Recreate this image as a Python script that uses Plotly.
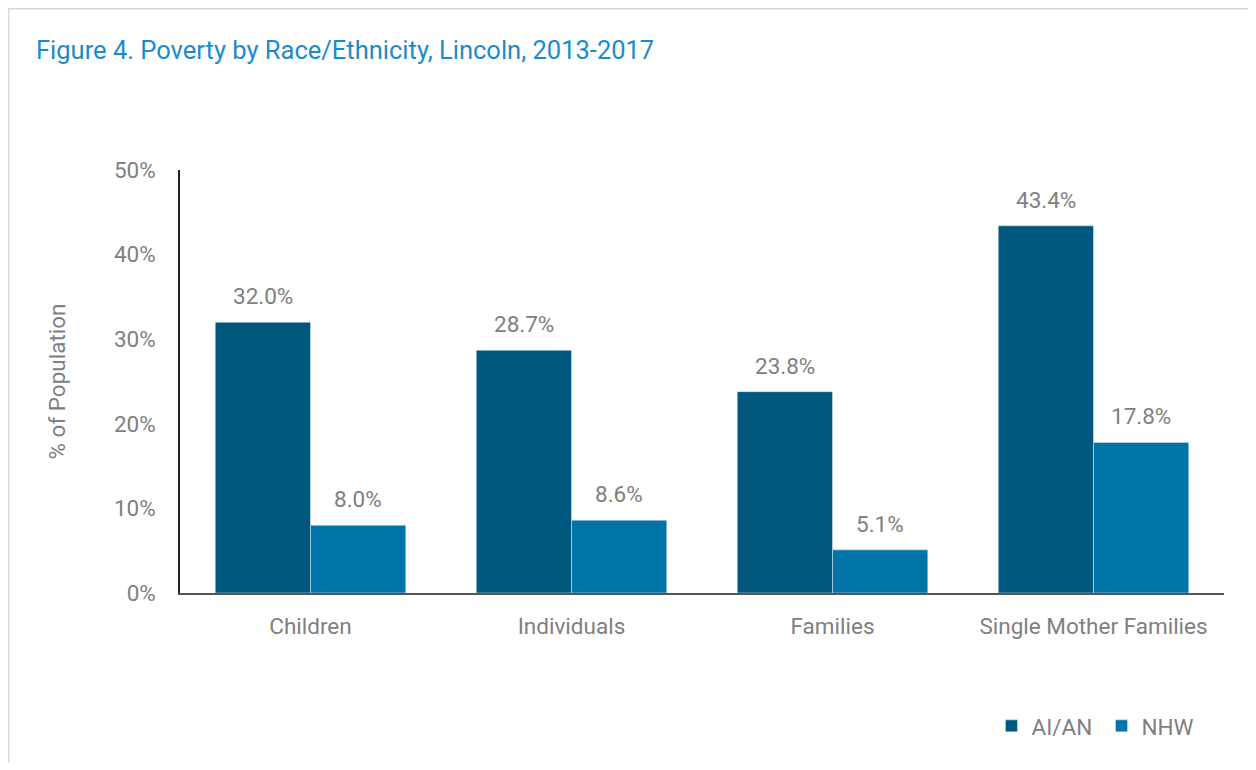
import plotly.graph_objects as go

categories = ["Children", "Individuals", "Families", "Single Mother Families"]
aian = [32.0, 28.7, 23.8, 43.4]
nhw = [8.0, 8.6, 5.1, 17.8]
y_ticks = [0, 10, 20, 30, 40, 50]
y_tick_labels = ["0%", "10%", "20%", "30%", "40%", "50%"]

FONT = "Roboto, Liberation Sans, Arial, sans-serif"
GRAY = "#808080"
FS = 22.5

fig = go.Figure()
fig.add_trace(go.Bar(name="AI/AN", x=categories, y=aian, marker_color="#00587e"))
fig.add_trace(go.Bar(name="NHW", x=categories, y=nhw, marker_color="#0074a9"))

# value labels above the bars
labels = []
for cat, a, n in zip(categories, aian, nhw):
    for val, shift in ((a, -47.5), (n, 47.5)):
        labels.append(dict(
            x=cat, y=val, xref="x", yref="y", xshift=shift, yshift=11,
            text=f"{val:.1f}%", showarrow=False, yanchor="bottom",
            font=dict(size=FS, color=GRAY, family=FONT),
        ))

labels.append(dict(
    text="Figure 4. Poverty by Race/Ethnicity, Lincoln, 2013-2017",
    xref="paper", yref="paper", x=-0.14, y=1.284, xanchor="left", yanchor="middle",
    showarrow=False, font=dict(size=25.5, color="#1b8ccb", family=FONT),
))

fig.update_layout(
    width=1240, height=755,
    margin=dict(l=172, r=24, t=162, b=170),
    paper_bgcolor="white", plot_bgcolor="white",
    font=dict(family=FONT, color=GRAY, size=FS),
    barmode="group", bargap=0.27, bargroupgap=0,
    showlegend=True,
    legend=dict(orientation="h", x=0.988, xanchor="right", y=-0.315, yanchor="middle",
                font=dict(size=FS, color=GRAY), traceorder="normal", entrywidth=65),
    annotations=labels,
    shapes=[dict(
        type="rect", xref="paper", yref="paper",
        x0=-0.164, x1=1.2, y0=-0.6, y1=1.381,
        line=dict(color="#d9d9d9", width=1.5), fillcolor="rgba(0,0,0,0)", layer="below",
    )],
)
fig.update_yaxes(
    range=[0, 50], tickvals=y_ticks, ticktext=y_tick_labels,
    showgrid=False, zeroline=False, showline=True, linecolor="#222222", linewidth=1.5,
    ticks="", tickfont=dict(size=FS, color=GRAY), ticklabelstandoff=18,
    title=dict(text="% of Population", font=dict(size=FS, color=GRAY), standoff=42),
)
fig.update_xaxes(
    showgrid=False, showline=True, linecolor="#555555", linewidth=1.5,
    ticks="", tickfont=dict(size=FS, color=GRAY), ticklabelstandoff=12,
)

fig.write_html("out.html")
